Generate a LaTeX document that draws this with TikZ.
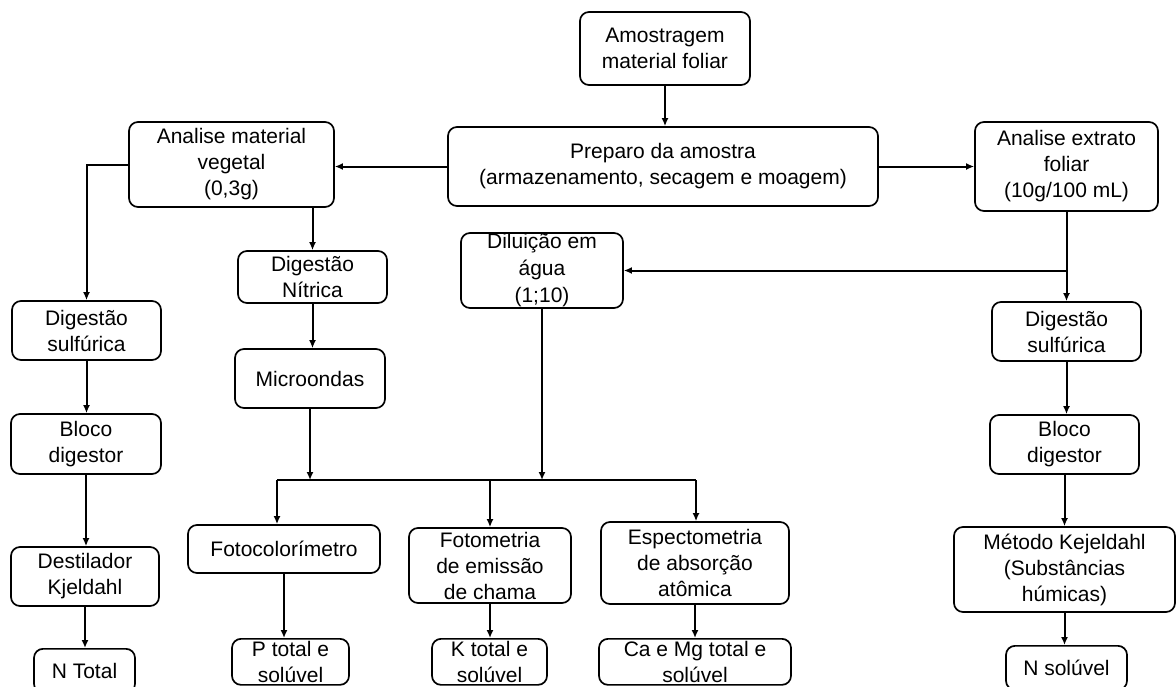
\documentclass[tikz,border=0pt]{standalone}
\usepackage{fontspec}
\setmainfont{Liberation Sans}
\usetikzlibrary{arrows.meta}

\begin{document}
\begin{tikzpicture}[x=1pt,y=-1pt,
	box/.style={draw, line width=1.7pt, rounded corners=9pt, align=center,
		inner sep=0pt, font=\fontsize{21}{26}\selectfont},
	arr/.style={-{Latex[length=8pt,width=7pt]}, line width=2pt}]
	\useasboundingbox (0,0) rectangle (1176,686);
	\clip (0,0) rectangle (1176,686);

	% amostra e preparo
	\node[box, minimum width=170pt, minimum height=73pt] (amostra) at (665,48.5) {Amostragem\\material foliar};
	\node[box, minimum width=430pt, minimum height=79pt] (preparo) at (663,166.5) {Preparo da amostra\\(armazenamento, secagem e moagem)};
	\node[box, minimum width=205pt, minimum height=85pt] (vegetal) at (231.5,164.5) {Analise material\\vegetal\\(0,3g)};
	\node[box, minimum width=183pt, minimum height=89pt] (extrato) at (1066.5,166.5) {Analise extrato\\foliar\\(10g/100 mL)};

	% coluna esquerda
	\node[box, minimum width=149pt, minimum height=59pt] (digL) at (86.5,330.5) {Digestão\\sulfúrica};
	\node[box, minimum width=150pt, minimum height=60pt] (blocoL) at (86,444) {Bloco\\digestor};
	\node[box, minimum width=148pt, minimum height=59pt] (destilador) at (85,576.5) {Destilador\\Kjeldahl};
	\node[box, minimum width=101pt, minimum height=44pt, anchor=north] (ntotal) at (84.5,648) {N Total};

	% centro
	\node[box, minimum width=149pt, minimum height=52pt] (nitrica) at (312.5,277) {Digestão\\Nítrica};
	\node[box, minimum width=150pt, minimum height=59pt] (micro) at (310,378.5) {Microondas};
	\node[box, minimum width=162pt, minimum height=75pt, font=\fontsize{21}{27}\selectfont] (diluicao) at (542,270.5) {Diluição em\\água\\(1;10)};
	\node[box, minimum width=192pt, minimum height=48pt] (fotocol) at (284,549) {Fotocolorímetro};
	\node[box, minimum width=162pt, minimum height=75pt] (fotomet) at (490,565.5) {Fotometria\\de emissão\\de chama};
	\node[box, minimum width=188pt, minimum height=82pt] (espectro) at (695,563) {Espectometria\\de absorção\\atômica};
	\node[box, minimum width=117pt, minimum height=46pt, anchor=north] (ptotal) at (290.5,638) {P total e\\solúvel};
	\node[box, minimum width=115pt, minimum height=46pt, anchor=north] (ktotal) at (489.5,638) {K total e\\solúvel};
	\node[box, minimum width=192pt, minimum height=46pt, anchor=north] (camg) at (695,638) {Ca e Mg total e\\solúvel};

	% coluna direita
	\node[box, minimum width=149pt, minimum height=59pt] (digR) at (1066.5,331.5) {Digestão\\sulfúrica};
	\node[box, minimum width=149pt, minimum height=59pt] (blocoR) at (1064.5,444.5) {Bloco\\digestor};
	\node[box, minimum width=221pt, minimum height=85pt] (kjeldahl) at (1064.5,569.5) {Método Kejeldahl\\(Substâncias\\húmicas)};
	\node[box, minimum width=121pt, minimum height=44pt, anchor=north] (nsol) at (1066.5,645) {N solúvel};

	\coordinate (bl) at (277,480);
	\coordinate (br) at (696,480);
	\coordinate (tap) at (extrato.south |- diluicao.east);

	% ligacoes
	\draw[arr] (amostra.south) -- (amostra.south |- preparo.north);
	\draw[arr] (preparo.west) -- (preparo.west -| vegetal.east);
	\draw[arr] (preparo.east) -- (preparo.east -| extrato.west);
	\draw[arr] (vegetal.west) -| (digL.north);
	\draw[arr] (digL.south) -- (digL.south |- blocoL.north);
	\draw[arr] (blocoL.south) -- (blocoL.south |- destilador.north);
	\draw[arr] (destilador.south) -- (destilador.south |- ntotal.north);
	\draw[arr] (vegetal.south -| nitrica.north) -- (nitrica.north);
	\draw[arr] (nitrica.south) -- (nitrica.south |- micro.north);
	\draw[line width=2pt] (bl) -- (br);
	\draw[arr] (micro.south) -- (micro.south |- bl);
	\draw[arr] (diluicao.south) -- (diluicao.south |- bl);
	\draw[arr] (bl) -- (bl |- fotocol.north);
	\draw[arr] (fotomet.north |- br) -- (fotomet.north);
	\draw[arr] (br) -- (br |- espectro.north);
	\draw[arr] (fotocol.south) -- (fotocol.south |- ptotal.north);
	\draw[arr] (fotomet.south) -- (fotomet.south |- ktotal.north);
	\draw[arr] (espectro.south) -- (espectro.south |- camg.north);
	\draw[arr] (extrato.south) -- (extrato.south |- digR.north);
	\draw[arr] (tap) -- (diluicao.east);
	\draw[arr] (digR.south) -- (digR.south |- blocoR.north);
	\draw[arr] (blocoR.south) -- (blocoR.south |- kjeldahl.north);
	\draw[arr] (kjeldahl.south) -- (kjeldahl.south |- nsol.north);
\end{tikzpicture}
\end{document}
